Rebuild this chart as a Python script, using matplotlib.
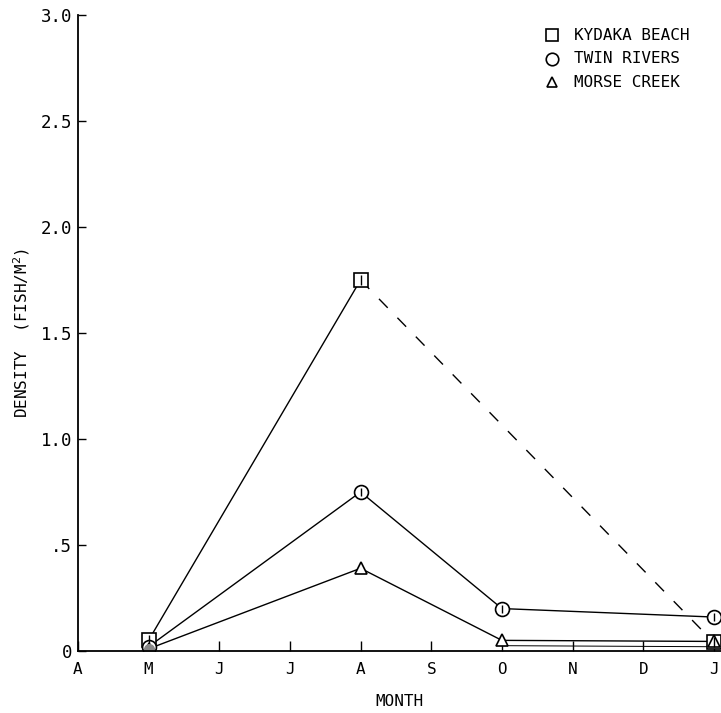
import numpy as np
import matplotlib.pyplot as plt

months = ['A', 'M', 'J', 'J', 'A', 'S', 'O', 'N', 'D', 'J']

# month index -> density (fish/m^2)
kydaka_x = [1, 4]
kydaka_y = [0.05, 1.75]
kydaka_late_x = [4, 9]
kydaka_late_y = [1.75, 0.04]

twin_x = [1, 4, 6, 9]
twin_y = [0.02, 0.75, 0.20, 0.16]

morse_x = [1, 4, 6, 9]
morse_y = [0.01, 0.39, 0.05, 0.045]

yticks = [0, 0.5, 1.0, 1.5, 2.0, 2.5, 3.0]
yticklabels = ['0', '.5', '1.0', '1.5', '2.0', '2.5', '3.0']

plt.rcParams['font.family'] = ['DejaVu Sans Mono', 'DejaVu Sans']

fig = plt.figure(figsize=(7.21, 7.13), dpi=100)
ax = fig.add_axes([0.108, 0.087, 0.892, 0.892])

lw = 1.0
ax.plot(kydaka_x, kydaka_y, color='k', lw=lw)
ax.plot(kydaka_late_x, kydaka_late_y, color='k', lw=lw, dashes=(9, 10))
ax.plot(twin_x, twin_y, color='k', lw=lw)
ax.plot(morse_x, morse_y, color='k', lw=lw)
ax.plot(morse_x[2:], [y - 0.025 for y in morse_y[2:]], color='k', lw=0.7)

mk = dict(color='k', mfc='white', mec='k', mew=1.2, ms=10, ls='none')
ax.plot(kydaka_x + [9], kydaka_y[:1] + [1.75, 0.04], marker='s', **mk)
ax.plot(twin_x, twin_y, marker='o', **mk)
ax.plot(morse_x, morse_y, marker='^', **dict(mk, ms=8))
ax.plot(kydaka_x + [9], kydaka_y[:1] + [1.75, 0.04], marker='|', color='k', ms=7, ls='none')
ax.plot(twin_x, twin_y, marker='|', color='k', ms=6, ls='none')
ax.plot([1], [0.01], marker='o', color='#888888', ms=7, ls='none')

ax.set_xlim(0, 9.1)
ax.set_ylim(0, 3.0)
ax.set_xticks(range(len(months)))
ax.set_xticklabels(months, fontsize=11.5)
ax.set_yticks(yticks)
ax.set_yticklabels(yticklabels, fontsize=12.5)
ax.tick_params(direction='in', length=6, width=1, pad=4)
ax.tick_params(axis='x', length=7, pad=8)
for s in ['top', 'right']:
    ax.spines[s].set_visible(False)
for s in ['left', 'bottom']:
    ax.spines[s].set_linewidth(1.3)

ax.set_xlabel('MONTH', fontsize=11.5, labelpad=12)
ax.set_ylabel('DENSITY  (FISH/M$^2$)', fontsize=11.5, labelpad=6)

# legend
leg_items = [('s', 'KYDAKA BEACH', 10), ('o', 'TWIN RIVERS', 10), ('^', 'MORSE CREEK', 8)]
for i, (m, lab, ms) in enumerate(leg_items):
    yy = 0.968 - i * 0.037
    ax.plot([0.738], [yy], transform=ax.transAxes, marker=m, color='k', mfc='white',
            mew=1.2, ms=ms * 0.9, clip_on=False)
    ax.text(0.772, yy, lab, transform=ax.transAxes, fontsize=11.5, va='center')

fig.savefig('out.png', dpi=100)
